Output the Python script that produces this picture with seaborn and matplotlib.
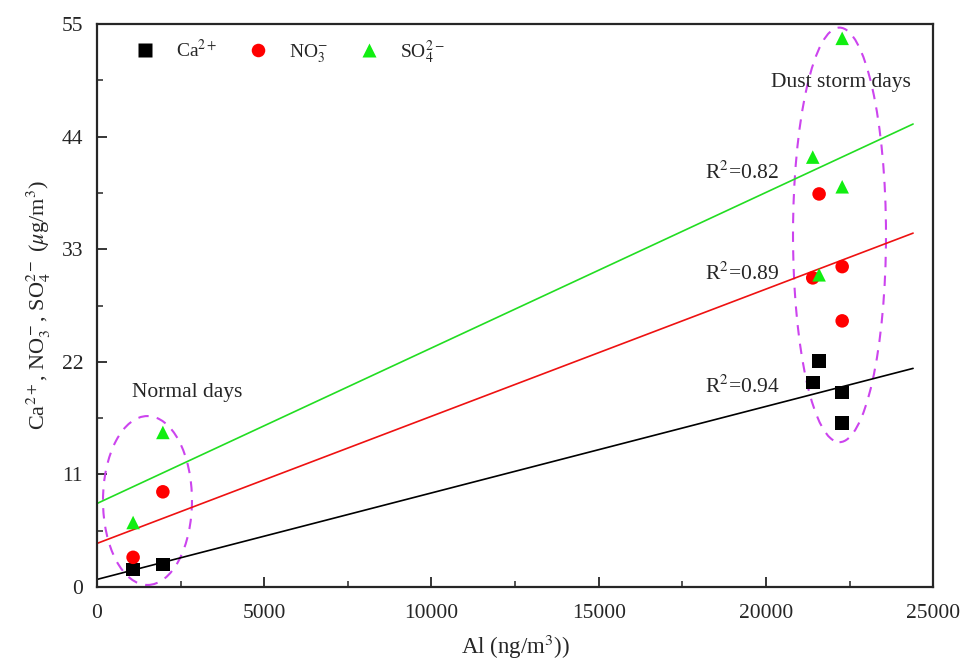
import numpy as np
import pandas as pd
import seaborn as sns
import matplotlib.pyplot as plt
from matplotlib.patches import Ellipse
from matplotlib.ticker import MultipleLocator

# Data
al = [1080, 1970, 21400, 21590, 22280, 22280]
ca = [1.7, 2.2, 20.0, 22.1, 19.0, 16.0]
no3 = [2.9, 9.3, 30.2, 38.4, 31.3, 26.0]
so4 = [6.3, 15.1, 42.0, 30.5, 53.6, 39.1]
ions = [r'Ca$^{2+}$', r'NO$_3^{-}$', r'SO$_4^{2-}$']
r2_labels = ['R$^2$=0.94', 'R$^2$=0.89', 'R$^2$=0.82']
colors = ['black', '#ff0000', '#11ee11']
line_colors = ['black', '#ee1111', '#22dd22']
markers = ['s', 'o', '^']

sns.set_style('ticks')
plt.rcParams['font.family'] = ['Liberation Serif', 'DejaVu Serif']
plt.rcParams['mathtext.fontset'] = 'stix'
plt.rcParams['xtick.direction'] = 'in'
plt.rcParams['ytick.direction'] = 'in'

df = pd.DataFrame({
    'Al': al * 3,
    'conc': ca + no3 + so4,
    'ion': [ions[0]] * 6 + [ions[1]] * 6 + [ions[2]] * 6,
})

fig = plt.figure(figsize=(9.64, 6.6), dpi=100)
ax = fig.add_axes([0.1006, 0.1106, 0.8674, 0.853])

# regression lines
x_fit = np.array([0, 24400])
for vals, c in zip([ca, no3, so4], line_colors):
    k, b = np.polyfit(al, vals, 1)
    sns.lineplot(x=x_fit, y=k * x_fit + b, color=c, linewidth=1.2, ax=ax, legend=False)

sns.scatterplot(
    data=df, x='Al', y='conc', hue='ion', style='ion',
    palette=dict(zip(ions, colors)), markers=dict(zip(ions, markers)),
    s=95, edgecolor='none', ax=ax, zorder=3
)

# ellipses around groups
ax.add_patch(Ellipse((1510, 8.45), 2660, 16.5, fill=False, edgecolor='#cc44ee',
                     linestyle=(0, (5, 4)), linewidth=1.5))
ax.add_patch(Ellipse((22200, 34.4), 2780, 40.5, fill=False, edgecolor='#cc44ee',
                     linestyle=(0, (5, 4)), linewidth=1.5))

ax.text(2690, 19.0, 'Normal days', fontsize=15.5, ha='center', va='center')
ax.text(22250, 49.3, 'Dust storm days', fontsize=15.5, ha='center', va='center')
for lab, yy in zip(r2_labels, [19.6, 30.6, 40.5]):
    ax.text(18180, yy, lab, fontsize=15.5, ha='left', va='center')

ax.set_xlim(0, 25000)
ax.set_ylim(0, 55)
ax.set_xticks(np.arange(0, 25001, 5000))
ax.set_yticks(np.arange(0, 56, 11))
ax.xaxis.set_minor_locator(MultipleLocator(2500))
ax.yaxis.set_minor_locator(MultipleLocator(5.5))
ax.tick_params(which='major', length=7, width=1.3, labelsize=15.5)
ax.tick_params(axis='x', which='major', pad=12)
ax.tick_params(axis='y', which='major', pad=10)
ax.tick_params(which='minor', length=4, width=1.1)
for sp in ax.spines.values():
    sp.set_linewidth(1.6)

ax.set_xlabel(r'Al (ng/m$^3$))', fontsize=16.5, labelpad=7)
ax.set_ylabel(r'Ca$^{2+}$, NO$_3^-$, SO$_4^{2-}$ ($\mu$g/m$^3$)', fontsize=16, labelpad=6)

ax.legend(loc='upper left', ncol=3, frameon=False, fontsize=14, title=None,
          bbox_to_anchor=(0.034, 0.975), borderaxespad=0, borderpad=0,
          columnspacing=1.1, handletextpad=0.6, handlelength=2.0)

fig.savefig('out.png', dpi=100)
